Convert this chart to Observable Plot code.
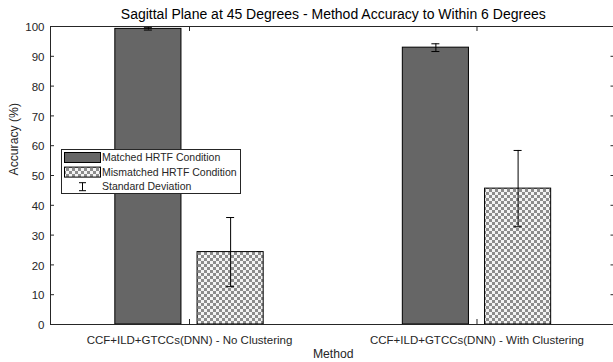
<!DOCTYPE html>
<html><head><meta charset="utf-8">
<script src="https://cdn.jsdelivr.net/npm/d3@7"></script>
<script src="https://cdn.jsdelivr.net/npm/@observablehq/plot@0.6"></script>
<style>body{margin:0;background:#fff;overflow:hidden}svg{display:block}</style>
</head><body><div id="chart"></div>
<script>
const categories = ["CCF+ILD+GTCCs(DNN) - No Clustering", "CCF+ILD+GTCCs(DNN) - With Clustering"];
const series = ["Matched HRTF Condition", "Mismatched HRTF Condition"];
const matched = [99.2, 92.9];
const matchedSD = [0.4, 1.3];
const mismatched = [24.3, 45.6];
const mismatchedSD = [11.6, 12.8];
const yTicks = [0,10,20,30,40,50,60,70,80,90,100];

const offsets = [-0.143, 0.143];
const barW = 0.23;
const rows = [];
categories.forEach((c, i) => {
  rows.push({cat: i + 1, series: series[0], x: i + 1 + offsets[0], v: matched[i], sd: matchedSD[i]});
  rows.push({cat: i + 1, series: series[1], x: i + 1 + offsets[1], v: mismatched[i], sd: mismatchedSD[i]});
});
const xlo = 0.5165, xhi = 2.4835;
const fills = {[series[0]]: "#666666", [series[1]]: "url(#checker)"};
const axisColor = "#262626";
const font = "Liberation Sans, Arial, Helvetica, sans-serif";

const chart = Plot.plot({
  width: 613, height: 362,
  marginLeft: 50, marginRight: -2.5, marginTop: 26, marginBottom: 38,
  style: {fontFamily: font, fontSize: "11.5px", color: axisColor, background: "#fff", overflow: "hidden"},
  x: {domain: [xlo, xhi], axis: null},
  y: {domain: [0, 100], axis: null},
  marks: [
    Plot.rectY(rows, {x1: d => d.x - barW/2, x2: d => d.x + barW/2, y1: 0, y2: "v", fill: d => fills[d.series], stroke: "#000", strokeWidth: 1}),
    Plot.ruleX(rows, {x: "x", y1: d => d.v - d.sd, y2: d => d.v + d.sd, stroke: "#000", strokeWidth: 1}),
    Plot.ruleY(rows, {y: d => d.v - d.sd, x1: "x", x2: "x", insetLeft: -4, insetRight: -4, stroke: "#000"}),
    Plot.ruleY(rows, {y: d => d.v + d.sd, x1: "x", x2: "x", insetLeft: -4, insetRight: -4, stroke: "#000"}),
    Plot.frame({stroke: axisColor, strokeWidth: 1}),
    Plot.ruleY(yTicks, {y: d => d, x1: xlo, x2: xlo, insetRight: -4, stroke: axisColor}),
    Plot.ruleY(yTicks, {y: d => d, x1: xhi, x2: xhi, insetLeft: -5, stroke: axisColor}),
    Plot.ruleX([1, 2], {x: d => d, y1: 0, y2: 0, insetTop: -5, stroke: axisColor}),
    Plot.ruleX([1, 2], {x: d => d, y1: 100, y2: 100, insetBottom: -5, stroke: axisColor}),
    Plot.text(yTicks, {x: xlo, y: d => d, text: d => String(d), textAnchor: "end", dx: -6, dy: 1, fill: axisColor, fontSize: 11.5}),
    Plot.text(categories, {x: (d, i) => i + 1, y: 0, text: d => d, dy: 16, fill: axisColor, fontSize: 11.5}),
    Plot.text(["Method"], {x: 1.5, y: 0, text: d => d, dy: 30, fill: axisColor, fontSize: 12.2}),
    Plot.text(["Accuracy (%)"], {frameAnchor: "left", text: d => d, rotate: -90, dx: -36, fill: axisColor, fontSize: 12.2}),
    Plot.text(["Sagittal Plane at 45 Degrees - Method Accuracy to Within 6 Degrees"], {x: 1.5, y: 100, text: d => d, dy: -11.5, fill: "#000", fontSize: 14})
  ]
});

const svg = d3.select(chart);
const defs = svg.insert("defs", ":first-child");
const pat = defs.append("pattern").attr("id", "checker").attr("patternUnits", "userSpaceOnUse")
  .attr("width", 6).attr("height", 6);
pat.append("rect").attr("width", 6).attr("height", 6).attr("fill", "#f4f4f4");
pat.append("rect").attr("x", 0).attr("y", 0).attr("width", 3).attr("height", 3).attr("fill", "#8c8c8c");
pat.append("rect").attr("x", 3).attr("y", 3).attr("width", 3).attr("height", 3).attr("fill", "#8c8c8c");

// legend
const lg = svg.append("g").attr("font-family", font).attr("font-size", 10.5).attr("text-anchor", "start");
lg.append("rect").attr("x", 61.5).attr("y", 149.5).attr("width", 179).attr("height", 44).attr("fill", "#fff").attr("stroke", "#262626");
const items = [
  {label: series[0], fill: fills[series[0]]},
  {label: series[1], fill: fills[series[1]]},
  {label: "Standard Deviation", sd: true}
];
items.forEach((it, i) => {
  const cy = 157.5 + i * 14.6;
  if (it.sd) {
    lg.append("line").attr("x1", 82.5).attr("x2", 82.5).attr("y1", cy - 4).attr("y2", cy + 4).attr("stroke", "#000");
    lg.append("line").attr("x1", 79).attr("x2", 86).attr("y1", cy - 4).attr("y2", cy - 4).attr("stroke", "#000");
    lg.append("line").attr("x1", 79).attr("x2", 86).attr("y1", cy + 4).attr("y2", cy + 4).attr("stroke", "#000");
  } else {
    lg.append("rect").attr("x", 64.5).attr("y", cy - 5).attr("width", 36).attr("height", 10).attr("fill", it.fill).attr("stroke", "#000");
  }
  lg.append("text").attr("x", 102).attr("y", cy).attr("dy", "0.35em").attr("fill", "#262626").text(it.label);
});

document.getElementById("chart").appendChild(chart);
</script></body></html>
